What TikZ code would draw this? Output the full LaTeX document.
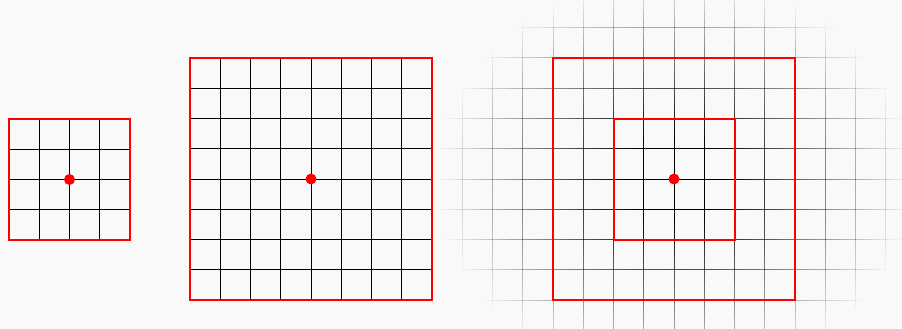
\documentclass[tikz,border=0pt]{standalone}
\definecolor{bg}{RGB}{249,249,249}
\tikzset{
  gridline/.style={line width=1pt, draw=black},
  redbox/.style={draw=red, line width=2pt},
  reddot/.style={circle, fill=red, inner sep=0pt, minimum size=11pt}
}
\begin{document}
\begin{tikzpicture}[x=1pt,y=1pt]
\fill[bg] (0,0) rectangle (902,-329);
\useasboundingbox (0,0) rectangle (902,-329);
% panel 1
\begin{scope}[shift={(69.5,-179.5)}]
  \draw[gridline] (-60.5,-60.5) grid[step=30.25] (60.5,60.5);
  \draw[redbox] (-60.5,-60.5) rectangle (60.5,60.5);
  \node[reddot] (c1) at (0,0) {};
\end{scope}
% panel 2
\begin{scope}[shift={(311,-179)}]
  \draw[gridline] (-121,-121) grid[step=30.25] (121,121);
  \draw[redbox] (-121,-121) rectangle (121,121);
  \node[reddot] (c2) at (0,0) {};
\end{scope}
% panel 3: radially fading grid
\begin{scope}[shift={(674,-179)}]
  \foreach \i in {-7,...,7}{
    \foreach \j in {-24,...,23}{
      \pgfmathsetmacro{\xx}{\i*30.25}
      \pgfmathsetmacro{\ya}{\j*7.5625}
      \pgfmathsetmacro{\yb}{\ya+7.5625}
      \pgfmathsetmacro{\op}{min(1,max(0,1.25*(1-sqrt((\xx/240)*(\xx/240)+((\ya+3.78)/205)*((\ya+3.78)/205)))))}
      \ifdim\op pt>0.01pt \draw[gridline, opacity=\op] (\xx,\ya) -- (\xx,\yb); \fi
    }
  }
  \foreach \j in {-5,...,5}{
    \foreach \i in {-32,...,31}{
      \pgfmathsetmacro{\yy}{\j*30.25}
      \pgfmathsetmacro{\xa}{\i*7.5625}
      \pgfmathsetmacro{\xb}{\xa+7.5625}
      \pgfmathsetmacro{\op}{min(1,max(0,1.25*(1-sqrt(((\xa+3.78)/240)*((\xa+3.78)/240)+(\yy/205)*(\yy/205)))))}
      \ifdim\op pt>0.01pt \draw[gridline, opacity=\op] (\xa,\yy) -- (\xb,\yy); \fi
    }
  }
  \draw[redbox] (-121,-121) rectangle (121,121);
  \draw[redbox] (-60.5,-60.5) rectangle (60.5,60.5);
  \node[reddot] (c3) at (0,0) {};
\end{scope}
\end{tikzpicture}
\end{document}
